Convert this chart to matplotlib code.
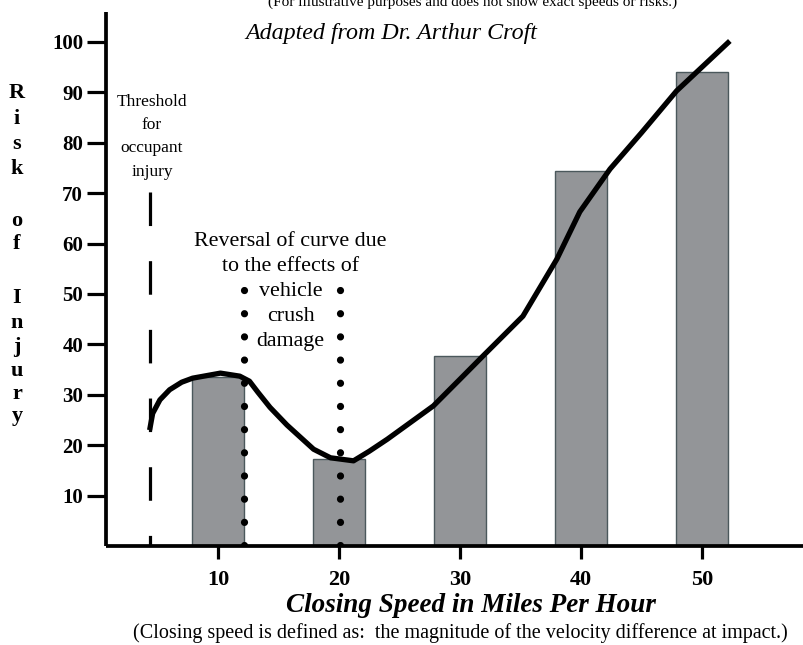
import matplotlib
matplotlib.use("Agg")
import matplotlib.pyplot as plt

plt.rcParams["font.family"] = ["Liberation Serif", "DejaVu Serif"]

# bars: closing speed (mph) vs risk of injury
bar_speeds = [10, 20, 30, 40, 50]
bar_risk = [33.5, 17.2, 37.6, 74.4, 94.1]

# injury risk curve
curve_speed = [4.35, 4.6, 5.2, 6.0, 7.0, 7.9, 10.2, 11.8, 12.6, 13.3, 14.3, 15.7, 17.9, 19.3,
               21.2, 22.5, 24.0, 27.8, 30.0, 31.9, 35.2, 38.0, 39.9, 42.4, 45.0, 47.9, 52.3]
curve_risk = [23.0, 26.3, 29.0, 31.0, 32.5, 33.3, 34.3, 33.7, 32.7, 30.5, 27.5, 24.0, 19.2, 17.5,
              16.9, 18.8, 21.2, 27.8, 33.1, 37.7, 45.6, 56.9, 66.3, 74.8, 82.0, 90.3, 100.2]

threshold_speed = 4.4
threshold_top = 70.2
crush_speeds = [12.15, 20.08]
crush_top = 50.8

y_ticks = [10, 20, 30, 40, 50, 60, 70, 80, 90, 100]
x_ticks = [10, 20, 30, 40, 50]

ylabel_letters = ["R", "i", "s", "k", "o", "f", "I", "n", "j", "u", "r", "y"]
ylabel_rows = [93, 119, 144, 169, 221, 244, 298, 323, 347, 371, 394, 416]

W, H = 804, 645


def fx(px):
    return px / W


def fy(py):
    return 1 - py / H


fig = plt.figure(figsize=(W / 100, H / 100), dpi=100)
ax = fig.add_axes([fx(106), fy(546), fx(804) - fx(106), fy(12) - fy(546)])
ax.set_xlim((106 - 97) / 12.1, (804 - 97) / 12.1)
ax.set_ylim(0, (546 - 12) / 5.04)

ax.bar(bar_speeds, bar_risk, width=4.22, color="#939598", edgecolor="#4b585c",
       linewidth=1.0, zorder=2)

# threshold dashed line
ax.plot([threshold_speed, threshold_speed], [threshold_top, 0], color="black",
        linewidth=2.3, linestyle=(0, (10.5, 11.0)), zorder=3)

# dotted lines bracketing the crush-damage region
for s in crush_speeds:
    ax.plot([s, s], [crush_top, 0], color="black", linewidth=5.2,
            linestyle=(0, (0.01, 3.2)), dash_capstyle="round", zorder=4)

ax.plot(curve_speed, curve_risk, color="black", linewidth=3.8, zorder=5,
        solid_joinstyle="round", solid_capstyle="butt")

for side in ["top", "right"]:
    ax.spines[side].set_visible(False)
for side in ["left", "bottom"]:
    ax.spines[side].set_linewidth(2.7)
    ax.spines[side].set_capstyle("butt")

ax.set_yticks(y_ticks, [str(t) for t in y_ticks], fontweight="bold")
ax.set_xticks(x_ticks, [str(t) for t in x_ticks], fontweight="bold")
ax.tick_params(axis="y", direction="out", length=13.5, width=2.3, pad=3, labelsize=15)
ax.tick_params(axis="x", direction="out", length=9.5, width=2.3, pad=8, labelsize=16)

ax.text(4.55, 81.2, "Threshold\nfor\noccupant\ninjury", ha="center", va="center",
        fontsize=12.5, linespacing=1.6)
ax.text(16.0, 50.5, "Reversal of curve due\nto the effects of\nvehicle\ncrush\ndamage",
        ha="center", va="center", fontsize=15.8, linespacing=1.42)

fig.text(fx(473), fy(6), "(For illustrative purposes and does not show exact speeds or risks.)",
         ha="center", va="baseline", fontsize=11)
fig.text(fx(391), fy(33), "Adapted from Dr. Arthur Croft", ha="center", va="center",
         fontsize=17.3, style="italic")
fig.text(fx(471), fy(606), "Closing Speed in Miles Per Hour", ha="center", va="center",
         fontsize=19.5, style="italic", fontweight="bold")
fig.text(fx(460), fy(633),
         "(Closing speed is defined as:  the magnitude of the velocity difference at impact.)",
         ha="center", va="center", fontsize=14.5)

for ch, row in zip(ylabel_letters, ylabel_rows):
    fig.text(fx(17), fy(row), ch, ha="center", va="center", fontsize=16, fontweight="bold")

fig.savefig("out.png", dpi=100)
